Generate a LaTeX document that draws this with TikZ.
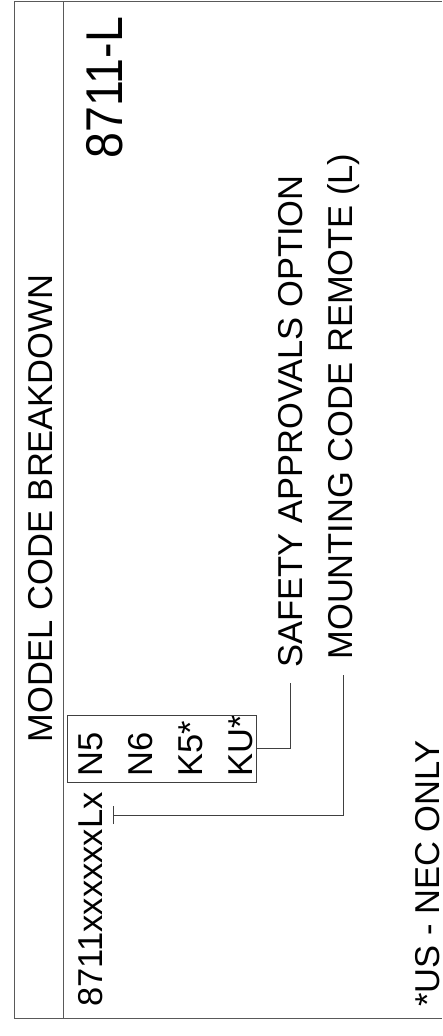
\documentclass[tikz,border=0pt]{standalone}
\usepackage{fontspec}
\setmainfont{Liberation Sans}
\usetikzlibrary{positioning}
\usetikzlibrary{arrows.meta}

\begin{document}
\begin{tikzpicture}[x=1pt,y=-1pt,line width=1pt,
  frame line/.style={draw=black!65},
  lead line/.style={draw=black!75},
  code text/.style={rotate=90,anchor=base west,inner sep=0pt,font=\fontsize{34.5}{40}\selectfont},
  lead label/.style={code text,inner xsep=15pt}]
\useasboundingbox (0,0) rectangle (442,1036);
\draw[frame line] (442,1) -- (14,1) -- (14,1018) -- (442,1018);
\draw[frame line] (63.5,1) -- (63.5,1018);
\node[code text] at (52,743) (title) {MODEL CODE BREAKDOWN};
\node[code text,font=\fontsize{51.7}{60}\selectfont] at (122,159) (partno) {\scalebox{0.9}[1]{8711-L}};
\node[code text] at (102,1007) (code) {8711xxxxxxLx};
\node[code text] at (102,777) (Nfive) {N5};
\node[code text] at (152,777) (Nsix) {N6};
\node[code text] at (202,777) (Kfive) {K5*};
\node[code text] at (252,777) (KU) {KU*};
\node[draw=black!75,minimum width=189pt,minimum height=67pt,inner sep=0pt] at (161.5,748.5) (approvals) {};
\node[lead label] at (302,683) (safety) {SAFETY APPROVALS OPTION};
\node[lead label] at (352,675) (mounting) {MOUNTING CODE REMOTE (L)};
\node[code text] at (439,1007) (note) {*US - NEC ONLY};
\coordinate (mountpos) at (113,815);
\draw[lead line] (approvals.east) -| (safety.west);
\draw[lead line,-{Bar[width=18pt,line width=1pt]}] (mounting.west) |- (mountpos);
\end{tikzpicture}
\end{document}
